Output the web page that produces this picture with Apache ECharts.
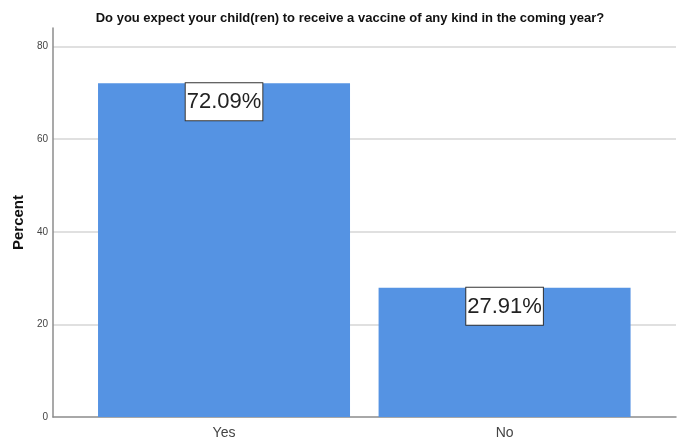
<!DOCTYPE html>
<html>
<head>
<meta charset="utf-8">
<script src="https://cdn.jsdelivr.net/npm/echarts@6/dist/echarts.min.js"></script>
<style>
html,body{margin:0;padding:0;background:#fff;}
#chart{width:686px;height:444px;}
</style>
</head>
<body>
<div id="chart"></div>
<script>
const categories = ['Yes', 'No'];
const percentValues = [72.09, 27.91];
const yTicks = [0, 20, 40, 60, 80];
const titleText = 'Do you expect your child(ren) to receive a vaccine of any kind in the coming year?';

const sans = "'Liberation Sans', Arial, sans-serif";
const chart = echarts.init(document.getElementById('chart'), null, {renderer: 'canvas'});
chart.setOption({
  animation: false,
  title: {
    text: titleText,
    left: 345, textAlign: 'center', top: 7,
    textStyle: {fontFamily: sans, fontWeight: 'bold', fontSize: 13, color: '#111'}
  },
  grid: {left: 53, right: 10, top: 28, bottom: 27, containLabel: false},
  xAxis: {
    type: 'value',
    min: -0.6096, max: 1.611,
    axisLine: {show: true, onZero: false, lineStyle: {color: '#8c8c8c', width: 1.5}},
    axisTick: {show: false},
    splitLine: {show: false},
    axisLabel: {
      customValues: [0, 1],
      formatter: v => categories[Math.round(v)] || '',
      fontFamily: sans, fontSize: 14, color: '#444', margin: 9
    }
  },
  yAxis: {
    type: 'value',
    min: 0, max: 84, interval: 20,
    name: 'Percent', nameLocation: 'middle', nameGap: 22,
    nameTextStyle: {fontFamily: sans, fontWeight: 'bold', fontSize: 15, color: '#111'},
    axisLine: {show: true, onZero: false, lineStyle: {color: '#8c8c8c', width: 1.5}},
    axisTick: {show: false},
    axisLabel: {
      showMaxLabel: false,
      formatter: v => (yTicks.indexOf(v) >= 0 ? String(v) : ''),
      fontFamily: sans, fontSize: 10, color: '#444', margin: 5
    },
    splitLine: {show: true, showMaxLine: false, showMinLine: false, lineStyle: {color: '#d6d6d6', width: 1.5}}
  },
  series: [{
    type: 'bar',
    barWidth: 252,
    data: categories.map((c, i) => [i, percentValues[i]]),
    itemStyle: {color: '#5593e3'},
    label: {
      show: true, position: 'insideTop', distance: 0,
      formatter: p => p.value[1].toFixed(2) + '%',
      fontFamily: sans, fontSize: 22, color: '#222',
      backgroundColor: '#fff', borderColor: '#333', borderWidth: 1,
      padding: [4, 1, 3, 1], lineHeight: 30
    }
  }]
});
</script>
</body>
</html>
